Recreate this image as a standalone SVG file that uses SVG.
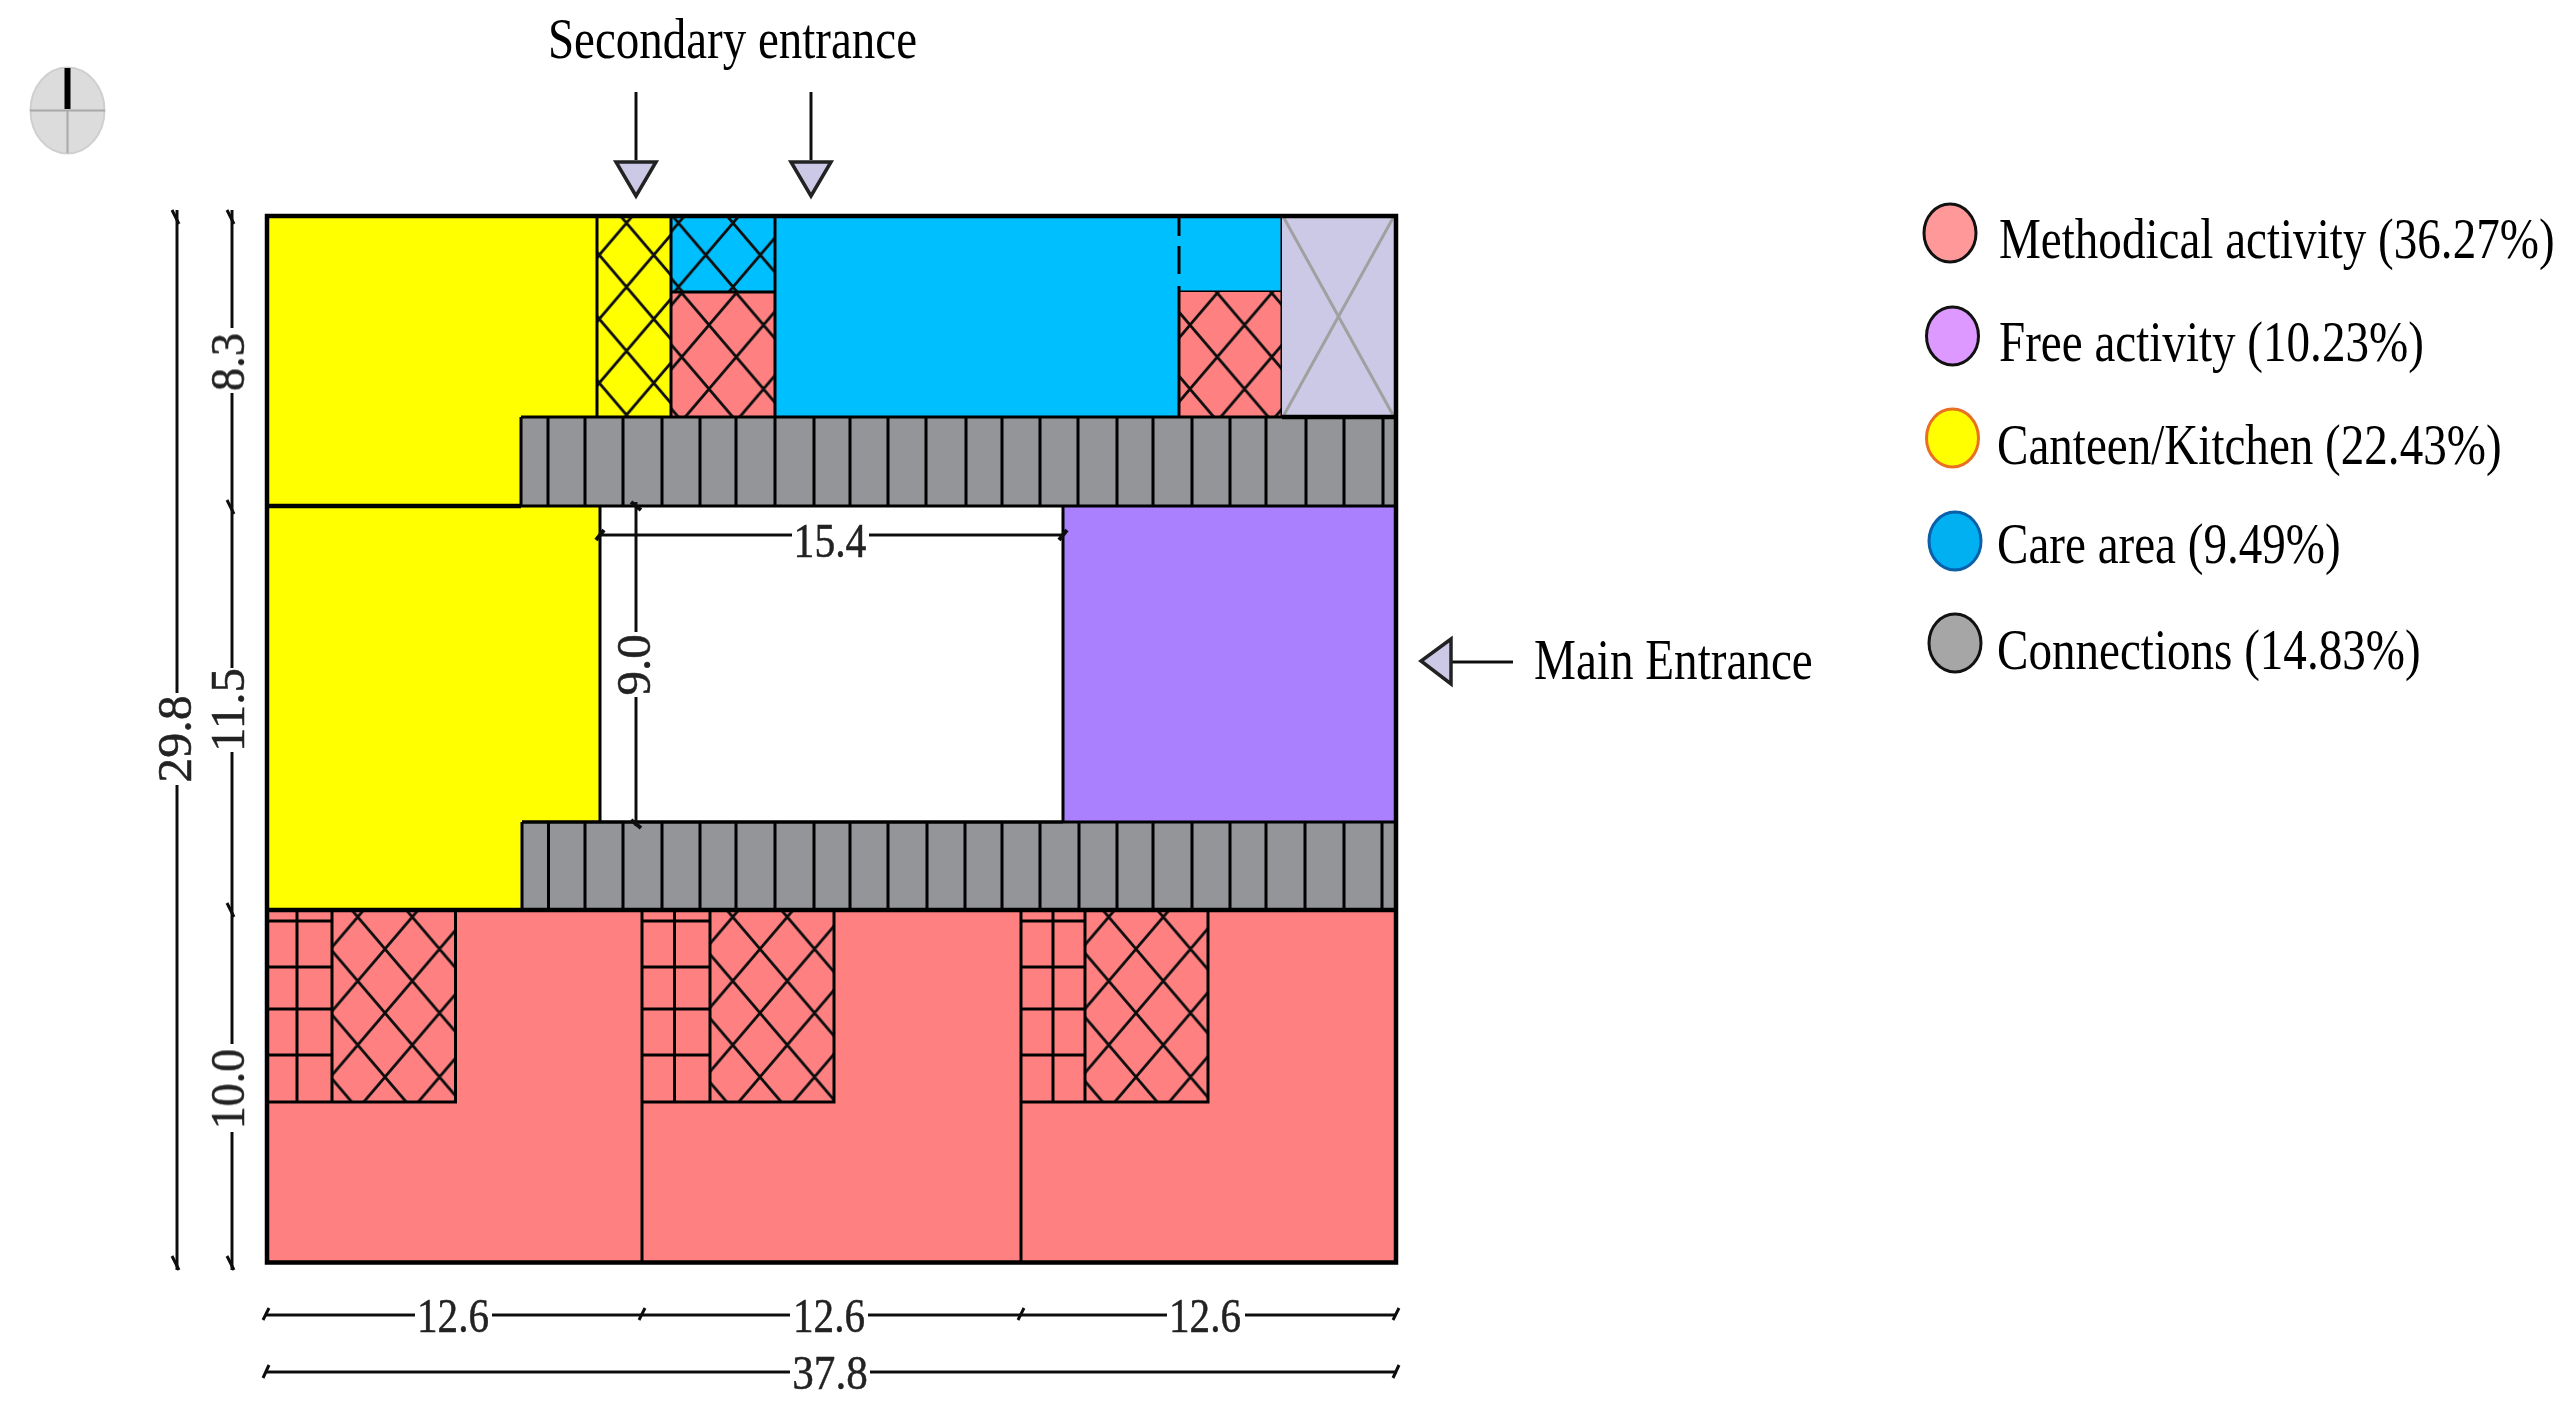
<svg xmlns="http://www.w3.org/2000/svg" xmlns:xlink="http://www.w3.org/1999/xlink" width="2571" height="1421" viewBox="0 0 2571 1421">
<style>
.s{stroke:#000;stroke-width:3;fill:none}
.o{stroke:#000;stroke-width:4.5;fill:none}
.d{stroke:#111;stroke-width:3;fill:none}
.t{font-family:"Liberation Serif","Times New Roman",serif;font-size:56px;fill:#000}
.m{font-family:"Liberation Serif","Times New Roman",serif;font-size:49px;fill:#222;stroke:#222;stroke-width:.5;text-anchor:middle}
.y{fill:#ffff00}.b{fill:#00bfff}.r{fill:#ff8080}.g{fill:#939598}.p{fill:#aa80ff}.l{fill:#ccc9e6}
.tri{fill:#ccc9e6;stroke:#222;stroke-width:3.5;stroke-linejoin:miter}
</style>
<defs>
<filter id="soft" x="-2%" y="-2%" width="104%" height="104%"><feGaussianBlur stdDeviation="0.6"/></filter>
<pattern id="h" width="54.5" height="64" patternUnits="userSpaceOnUse">
<path d="M0 0L54.5 64M54.5 0L0 64M-5 58L5 70M49.5 70L59.5 58M-5 6L5 -6M49.5 -6L59.5 6" stroke="#111" stroke-width="2.8" fill="none"/>
</pattern>
<pattern id="h1" xlink:href="#h" patternTransform="translate(626.5 287)"/>
<pattern id="h2" xlink:href="#h" patternTransform="translate(678.5 287)"/>
<pattern id="h3" xlink:href="#h" patternTransform="translate(709 325)"/>
<pattern id="h4" xlink:href="#h" patternTransform="translate(1190 325)"/>
<pattern id="h5" xlink:href="#h" patternTransform="translate(385 949)"/>
<pattern id="h6" xlink:href="#h" patternTransform="translate(760 949)"/>
<pattern id="h7" xlink:href="#h" patternTransform="translate(1136 949)"/>
</defs>
<rect width="2571" height="1421" fill="#fff"/>

<g id="compass" filter="url(#soft)">
<ellipse cx="67.5" cy="110.5" rx="37" ry="43" fill="#dcdcdc" stroke="#cfcfcf" stroke-width="2"/>
<path d="M30 110.5H105M67.5 110V153" stroke="#a8a8a8" stroke-width="2" fill="none"/>
<path d="M67.5 68V109" stroke="#000" stroke-width="6" fill="none"/>
</g>

<g id="plan" filter="url(#soft)">
<g id="kitchen-top">
<path class="y" d="M267 216H597V417H521V506H267Z"/>
</g>
<g id="kitchen-hatch">
<rect class="y" x="597" y="216" width="74" height="201"/>
<rect fill="url(#h1)" x="597" y="216" width="74" height="201"/>
<path class="s" d="M597 216V417"/>
</g>
<g id="care-hatch">
<rect class="b" x="671" y="216" width="104" height="76"/>
<rect fill="url(#h2)" x="671" y="216" width="104" height="76"/>
</g>
<g id="methodical-hatch-a">
<rect class="r" x="671" y="292" width="104" height="125"/>
<rect fill="url(#h3)" x="671" y="292" width="104" height="125"/>
<path class="s" d="M671 216V417M671 292H775"/>
</g>
<g id="care-main">
<rect class="b" x="775" y="216" width="404" height="201"/>
<rect class="b" x="1179" y="216" width="103" height="76"/>
<path class="s" d="M775 216V417M1179 292H1282M1282 216V292"/>
<path d="M1179 216V292" stroke="#000" stroke-width="3" stroke-dasharray="20 10 28 12 20" fill="none"/>
</g>
<g id="methodical-hatch-b">
<rect class="r" x="1179" y="292" width="103" height="125"/>
<rect fill="url(#h4)" x="1179" y="292" width="103" height="125"/>
<path class="s" d="M1179 292V417M1282 292V417"/>
</g>
<g id="storage">
<rect class="l" x="1282" y="216" width="113" height="201"/>
<path d="M1284 218L1393 415M1393 218L1284 415" stroke="#a0a0a0" stroke-width="3" fill="none"/>
</g>
<g id="corridor-top">
<rect class="g" x="521" y="417" width="875" height="89"/>
<path class="s" d="M521 417H1396M521 417V506M548 417V506M585 417V506M623 417V506M662 417V506M700 417V506M736 417V506M775 417V506M814 417V506M850 417V506M888 417V506M926 417V506M966 417V506M1002 417V506M1040 417V506M1078 417V506M1117 417V506M1153 417V506M1192 417V506M1230 417V506M1266 417V506M1306 417V506M1344 417V506M1383 417V506"/>
</g>
<g id="kitchen-bottom">
<path class="y" d="M267 506H600V822H522V910H267Z"/>
<path class="s" d="M600 506V822"/>
</g>
<g id="free-activity">
<rect class="p" x="1063" y="506" width="333" height="316"/>
<path class="s" d="M1063 506V822"/>
</g>
<g id="corridor-bottom">
<rect class="g" x="522" y="822" width="874" height="88"/>
<path class="s" d="M522 822H1396M522 822V910M548.5 822V910M585 822V910M623 822V910M662 822V910M700 822V910M736 822V910M775 822V910M814 822V910M850 822V910M888 822V910M927 822V910M965 822V910M1002 822V910M1040 822V910M1079 822V910M1117 822V910M1153 822V910M1192 822V910M1230 822V910M1266 822V910M1305 822V910M1344 822V910M1382 822V910"/>
</g>
<g id="classrooms">
<rect class="r" x="267" y="910" width="1129" height="352.5"/>
<rect fill="url(#h5)" x="332" y="910" width="124" height="192"/>
<rect fill="url(#h6)" x="710" y="910" width="124" height="192"/>
<rect fill="url(#h7)" x="1085" y="910" width="123" height="192"/>
<path class="s" d="M642 910V1262M1021 910V1262"/>
<path class="s" d="M267 1102H455.5V910M332 910V1102M297 910V1102M267 921H332M267 967H332M267 1009H332M267 1055H332"/>
<path class="s" d="M642 1102H834V910M710 910V1102M674.5 910V1102M642 921H710M642 967H710M642 1009H710M642 1055H710"/>
<path class="s" d="M1021 1102H1208V910M1085 910V1102M1053 910V1102M1021 921H1085M1021 967H1085M1021 1009H1085M1021 1055H1085"/>
</g>
<g id="walls">
<rect class="o" x="267" y="216" width="1129" height="1046.5"/>
<path class="o" d="M267 506H521M267 910H1396M1282 417H1396"/>
<path class="s" d="M521 506H1396M522 822H1063"/>
</g>
</g>

<g id="connectors" filter="url(#soft)">
<path class="d" d="M177 210V693M177 785V1270M232 210V328M232 393V668M232 752V1044M232 1132V1270"/>
<path class="d" d="M172 210L179 224M172 1256L179 1270M227 210L234 224M227 500L234 514M227 903L234 917M227 1256L234 1270"/>
<path class="d" d="M636 502V632M636 697V826"/>
<path class="d" d="M600 535H792M869 535H1063"/>
<path d="M596 540L604 530M631 502L641 510M631 820L641 828M1059 540L1067 530" stroke="#111" stroke-width="4" fill="none"/>
<path class="d" d="M265 1315H415M492 1315H790M868 1315H1167M1245 1315H1396M265 1372H790M870 1372H1397"/>
<path d="M263 1320L269 1308M639 1320L645 1308M1018 1320L1024 1308M1393 1320L1399 1308M263 1378L269 1365M1393 1378L1399 1365" stroke="#111" stroke-width="3" fill="none"/>
<path d="M636 92V160M811 92V160M1451 662H1513" stroke="#111" stroke-width="3" fill="none"/>
<polygon class="tri" points="616,162 656,162 636,196"/>
<polygon class="tri" points="791,162 831,162 811,196"/>
<polygon class="tri" points="1451,639 1451,684 1421,661"/>
</g>

<g id="dimension-labels" filter="url(#soft)">
<text class="m" transform="translate(453 1332) scale(.84 1)">12.6</text>
<text class="m" transform="translate(829 1332) scale(.84 1)">12.6</text>
<text class="m" transform="translate(1205 1332) scale(.84 1)">12.6</text>
<text class="m" transform="translate(830 1389) scale(.88 1)">37.8</text>
<text class="m" transform="translate(830 557) scale(.85 1)">15.4</text>
<text class="m" transform="translate(244 362) rotate(-90) scale(.95 1)">8.3</text>
<text class="m" transform="translate(243.5 710) rotate(-90)">11.5</text>
<text class="m" transform="translate(244 1089) rotate(-90) scale(.94 1)">10.0</text>
<text class="m" transform="translate(191 739) rotate(-90) scale(1.02 1)">29.8</text>
<text class="m" transform="translate(650 665) rotate(-90)">9.0</text>
</g>

<g id="entrance-labels">
<text class="t" transform="translate(548 58) scale(.839 1)">Secondary entrance</text>
<text class="t" transform="translate(1534 679) scale(.842 1)">Main Entrance</text>
</g>

<g id="legend-methodical">
<ellipse cx="1950" cy="233" rx="26" ry="29" fill="#ff9999" stroke="#111" stroke-width="3"/>
<text class="t" transform="translate(1999 258) scale(.841 1)">Methodical activity (36.27%)</text>
</g>
<g id="legend-free">
<ellipse cx="1952.5" cy="336" rx="26" ry="29" fill="#dd99ff" stroke="#111" stroke-width="3"/>
<text class="t" transform="translate(1999 361) scale(.841 1)">Free activity (10.23%)</text>
</g>
<g id="legend-canteen">
<ellipse cx="1952.5" cy="438" rx="26" ry="29" fill="#ffff00" stroke="#e87020" stroke-width="3"/>
<text class="t" transform="translate(1997 464) scale(.841 1)">Canteen/Kitchen (22.43%)</text>
</g>
<g id="legend-care">
<ellipse cx="1955" cy="541" rx="26" ry="29" fill="#00b0f0" stroke="#0a5fa8" stroke-width="3"/>
<text class="t" transform="translate(1997 563) scale(.841 1)">Care area (9.49%)</text>
</g>
<g id="legend-connections">
<ellipse cx="1955" cy="643" rx="26" ry="29" fill="#a6a6a6" stroke="#111" stroke-width="3"/>
<text class="t" transform="translate(1997 669) scale(.841 1)">Connections (14.83%)</text>
</g>
</svg>
